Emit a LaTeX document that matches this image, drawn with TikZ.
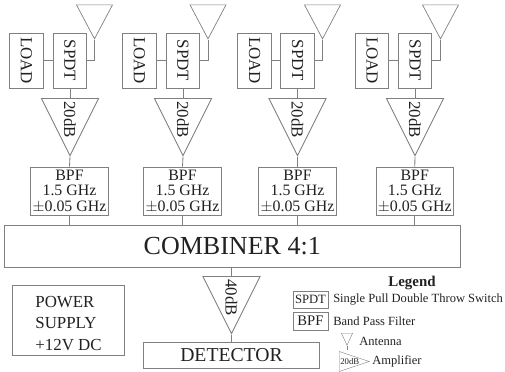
\documentclass[tikz,border=0pt]{standalone}
\usepackage{fontspec}
\setmainfont{Liberation Serif}
\usetikzlibrary{shapes.geometric, arrows.meta}
\definecolor{linegray}{gray}{0.5}
\definecolor{textgray}{gray}{0.13}
\tikzset{
    base/.style={draw=linegray, rectangle, line width=0.6pt, inner sep=0pt, align=center, text=textgray},
    loadbox/.style={base, rotate=-90, minimum width=1.375cm, minimum height=0.84cm, font=\fontsize{12}{14}\selectfont},
    bpfbox/.style={base, minimum width=1.93cm, minimum height=1.2cm, font=\fontsize{11.3}{11}\selectfont},
    amp/.style={draw=linegray, isosceles triangle, isosceles triangle stretches, line width=0.6pt, inner sep=0pt, rotate=-90, anchor=lower side, minimum width=1.43cm, minimum height=1.43cm, text=textgray, font=\fontsize{12}{14}\selectfont},
    ant/.style={draw=linegray, isosceles triangle, isosceles triangle stretches, line width=0.5pt, inner sep=0pt, rotate=-90, anchor=lower side, minimum width=0.9cm, minimum height=0.85cm},
    wire/.style={draw=linegray, line width=0.6pt},
    legtext/.style={anchor=west, inner sep=0pt, text=textgray, font=\fontsize{8.9}{10}\selectfont}
}
\begin{document}
\begin{tikzpicture}[x=0.025cm, y=-0.025cm]
\useasboundingbox (0,0) rectangle (505,371);
\node[base, minimum width=11.39cm, minimum height=1.05cm, font=\fontsize{18.5}{20}\selectfont] (comb) at (232.25,246) {COMBINER 4:1};
\node[loadbox] (load1) at (26.5,60.5) {LOAD};
\node[loadbox] (spdt1) at (70,60.5) {SPDT};
\node[ant] (ant1) at (94.5,4.5) {};
\node[amp] (amp1) at (70,98) {20dB};
\node[bpfbox] (bpf1) at (69.5,191) {BPF\\1.5 GHz\\$\pm$0.05 GHz};
\draw[wire] (load1.north) -- (spdt1.south);
\draw[wire] (spdt1.north) -| (ant1.apex);
\draw[wire] (spdt1.east) -- (amp1.lower side);
\draw[wire] (amp1.apex) -- (bpf1.north);
\draw[wire] (bpf1.south) -- (bpf1.south |- comb.north);
\node[loadbox] (load2) at (139.5,60.5) {LOAD};
\node[loadbox] (spdt2) at (183,60.5) {SPDT};
\node[ant] (ant2) at (208,4.5) {};
\node[amp] (amp2) at (183,98) {20dB};
\node[bpfbox] (bpf2) at (182.5,191) {BPF\\1.5 GHz\\$\pm$0.05 GHz};
\draw[wire] (load2.north) -- (spdt2.south);
\draw[wire] (spdt2.north) -| (ant2.apex);
\draw[wire] (spdt2.east) -- (amp2.lower side);
\draw[wire] (amp2.apex) -- (bpf2.north);
\draw[wire] (bpf2.south) -- (bpf2.south |- comb.north);
\node[loadbox] (load3) at (254.5,60.5) {LOAD};
\node[loadbox] (spdt3) at (297.5,60.5) {SPDT};
\node[ant] (ant3) at (322.5,4.5) {};
\node[amp] (amp3) at (297.5,98) {20dB};
\node[bpfbox] (bpf3) at (297.5,191) {BPF\\1.5 GHz\\$\pm$0.05 GHz};
\draw[wire] (load3.north) -- (spdt3.south);
\draw[wire] (spdt3.north) -| (ant3.apex);
\draw[wire] (spdt3.east) -- (amp3.lower side);
\draw[wire] (amp3.apex) -- (bpf3.north);
\draw[wire] (bpf3.south) -- (bpf3.south |- comb.north);
\node[loadbox] (load4) at (372,60.5) {LOAD};
\node[loadbox] (spdt4) at (415,60.5) {SPDT};
\node[ant] (ant4) at (440.5,4.5) {};
\node[amp] (amp4) at (415,98) {20dB};
\node[bpfbox] (bpf4) at (414.75,191) {BPF\\1.5 GHz\\$\pm$0.05 GHz};
\draw[wire] (load4.north) -- (spdt4.south);
\draw[wire] (spdt4.north) -| (ant4.apex);
\draw[wire] (spdt4.east) -- (amp4.lower side);
\draw[wire] (amp4.apex) -- (bpf4.north);
\draw[wire] (bpf4.south) -- (bpf4.south |- comb.north);
\node[amp] (amp5) at (231.5,276) {40dB};
\node[base, minimum width=4.38cm, minimum height=0.66cm, font=\fontsize{14}{16}\selectfont] (det) at (231.5,355.2) {DETECTOR};
\draw[wire] (comb.south -| amp5.lower side) -- (amp5.lower side);
\draw[wire] (amp5.apex) -- (det.north -| amp5.apex);
\node[base, minimum width=2.78cm, minimum height=1.75cm, align=left, font=\fontsize{12}{15.3}\selectfont] (power) at (68.5,320) {\rule{0pt}{12.5pt}POWER\\SUPPLY\\+12V DC};
\node[inner sep=0pt, text=textgray, font=\bfseries\fontsize{10.6}{12}\selectfont] (leg) at (412,283) {Legend};
\node[base, minimum width=0.875cm, minimum height=0.425cm, font=\fontsize{9}{10}\selectfont] (legspdt) at (310.5,299.5) {SPDT};
\node[legtext] (legspdttext) at (333,299) {Single Pull Double Throw Switch};
\node[base, minimum width=0.875cm, minimum height=0.45cm, font=\fontsize{10.4}{12}\selectfont] (legbpf) at (310.5,321) {BPF};
\node[legtext] (legbpftext) at (333,321) {Band Pass Filter};
\node[ant, minimum width=0.28cm, minimum height=0.3cm, line width=0.3pt] (legant) at (347,333) {};
\coordinate (legstem) at (347,350);
\draw[draw=linegray, line width=0.3pt] (legant.apex) -- (legstem);
\node[legtext] (legamptext) at (372,361) {Amplifier};
\node[legtext] (legantext) at (359,341) {Antenna};
\node[draw=linegray, isosceles triangle, isosceles triangle stretches, line width=0.3pt, inner sep=0pt, minimum width=0.5cm, minimum height=0.75cm, anchor=lower side] (legamp) at (339,361.5) {};
\node[inner sep=0pt, text=textgray, font=\fontsize{6.2}{7}\selectfont, anchor=west] (legampval) at (340,361.5) {20dB};
\end{tikzpicture}
\end{document}
